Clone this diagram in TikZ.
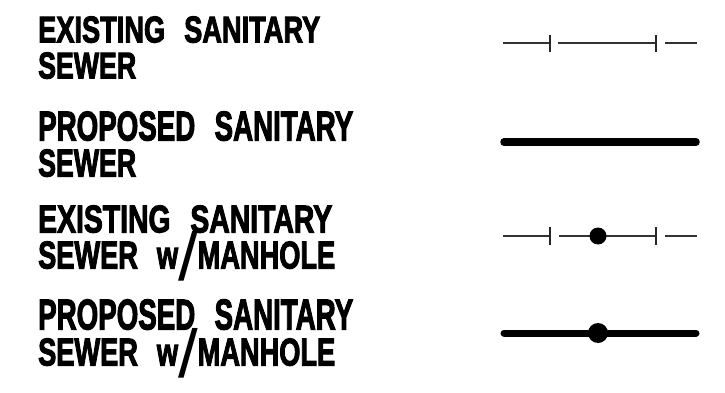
\documentclass[tikz,border=0pt]{standalone}
\usepackage{fontspec}
\usepackage{graphicx}
\setmainfont{Liberation Sans}[BoldFeatures={FakeBold=3}]
\newcommand{\cadline}[3]{\resizebox{#1pt}{#2pt}{\fontsize{20pt}{20pt}\selectfont\bfseries #3}}
\newcommand{\bigslash}{\smash{\raisebox{-.3em}{\scalebox{2.6}[1.75]{\mdseries /}}}}
\tikzset{
  lbl/.style={anchor=south west,inner sep=0pt,text=black},
  exline/.style={line width=2pt,black!80},
  prline/.style={line width=7.5pt,black,line cap=round},
  tick/.style={line width=1.8pt,black!85},
  mh/.style={circle,fill=black,inner sep=0pt}
}
\begin{document}
\begin{tikzpicture}[x=1pt,y=-1pt]
\useasboundingbox (0,0) rectangle (725,393);
\fill[white] (0,0) rectangle (725,393);
\node[lbl] (t1a) at (38,43) {\cadline{282}{26}{EXISTING\hspace{.7em}SANITARY}};
\node[lbl] (t1b) at (38,79) {\cadline{98}{26}{SEWER}};
\node[lbl] (t2a) at (38,141) {\cadline{315}{29}{PROPOSED\hspace{.7em}SANITARY}};
\node[lbl] (t2b) at (38,177) {\cadline{98}{27}{SEWER}};
\node[lbl] (t3a) at (38,233) {\cadline{294}{27}{EXISTING\hspace{.7em}SANITARY}};
\node[lbl] (t3b) at (38,269) {\cadline{297}{27}{SEWER\hspace{.7em}w\bigslash MANHOLE}};
\node[lbl] (t4a) at (38,330) {\cadline{315}{30}{PROPOSED\hspace{.7em}SANITARY}};
\node[lbl] (t4b) at (38,366) {\cadline{297}{27}{SEWER\hspace{.7em}w\bigslash MANHOLE}};
% line 1
\coordinate (a1) at (503,43); \coordinate (a2) at (550,43);
\coordinate (a3) at (558,43); \coordinate (a4) at (656,43);
\coordinate (a5) at (665,43); \coordinate (a6) at (697,43);
\draw[exline] (a1)--(a2) (a3)--(a4) (a5)--(a6);
\coordinate (at1) at (550,35); \coordinate (at2) at (550,52);
\coordinate (at3) at (656,35); \coordinate (at4) at (656,52);
\draw[tick] (at1)--(at2) (at3)--(at4);
% line 2
\coordinate (b1) at (504,142); \coordinate (b2) at (696,142);
\draw[prline] (b1)--(b2);
% line 3
\coordinate (c1) at (503,236); \coordinate (c2) at (550,236);
\coordinate (c3) at (559,236); \coordinate (c4) at (656,236);
\coordinate (c5) at (665,236); \coordinate (c6) at (697,236);
\draw[exline] (c1)--(c2) (c3)--(c4) (c5)--(c6);
\coordinate (ct1) at (550,227); \coordinate (ct2) at (550,245);
\coordinate (ct3) at (656,227); \coordinate (ct4) at (656,245);
\draw[tick] (ct1)--(ct2) (ct3)--(ct4);
\node[mh,minimum size=17pt] (m3) at (598,236) {};
% line 4
\coordinate (d1) at (504,333); \coordinate (d2) at (696,333);
\draw[prline,line width=7pt] (d1)--(d2);
\node[mh,minimum size=20pt] (m4) at (598,333) {};
\end{tikzpicture}
\end{document}
